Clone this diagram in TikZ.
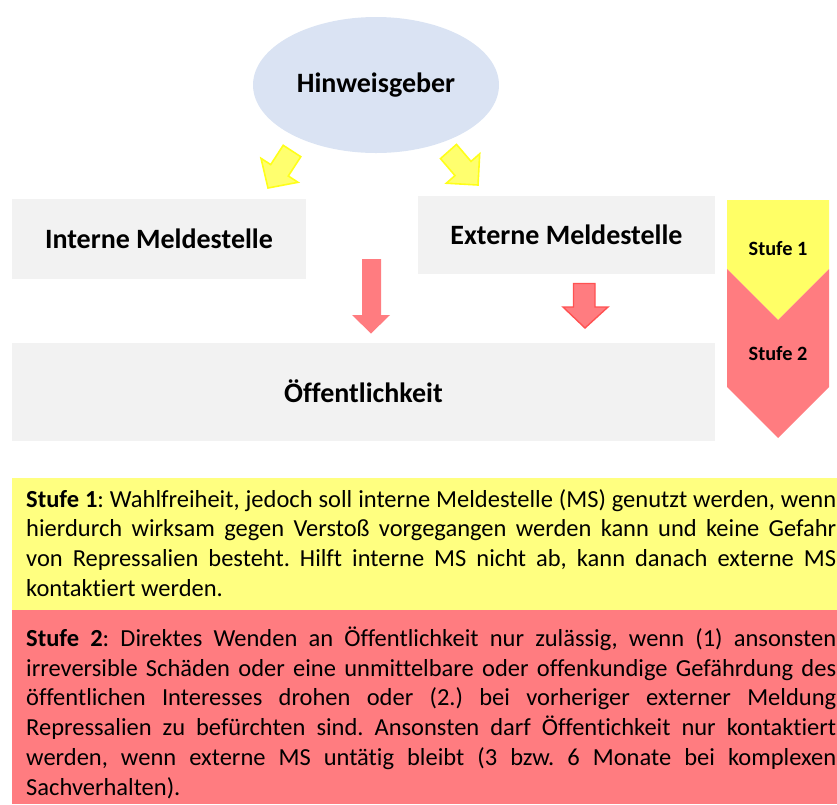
\documentclass[tikz,border=0pt]{standalone}
\usepackage{fontspec}
\setmainfont{Carlito}[Ligatures={NoCommon}]
\frenchspacing
\usetikzlibrary{shapes.geometric}
\definecolor{ellblue}{HTML}{DAE3F3}
\definecolor{boxgray}{HTML}{F2F2F2}
\definecolor{yfill}{HTML}{FFFF6E}
\definecolor{yline}{HTML}{FFFF1A}
\definecolor{chevy}{HTML}{FFFF66}
\definecolor{rfill}{HTML}{FF7C80}
\definecolor{rline}{HTML}{FF5252}
\definecolor{ybox}{HTML}{FFFF80}
\newcommand\headfont{\fontsize{28pt}{33pt}\selectfont\bfseries}
\newcommand\chevfont{\fontsize{20.3pt}{24pt}\selectfont\bfseries}
\newcommand\bodyfont{\fontsize{24.5pt}{29.7pt}\selectfont\frenchspacing}
\newcommand\jline[1]{\hbox to 810pt{#1}}
\begin{document}
\begin{tikzpicture}[x=1pt,y=-1pt,
  box/.style={fill=boxgray, inner sep=0pt, text height=18pt, text depth=0pt, font=\headfont},
  yarrow/.style={fill=yfill, draw=yline, line width=1.6pt, line join=miter},
  rarrow/.style={fill=rfill},
  rarrowb/.style={fill=rfill, draw=rline, line width=1.4pt},
  chevlbl/.style={font=\chevfont, anchor=base, inner sep=0pt},
  para/.style={anchor=base west, inner sep=0pt, font=\bodyfont}]
\useasboundingbox (0,0) rectangle (837,804);

% top ellipse
\node[ellipse, fill=ellblue, minimum width=246pt, minimum height=136pt, inner sep=0pt,
      text height=18pt, text depth=4pt, font=\headfont] (hg) at (376,85) {Hinweisgeber};

% boxes
\node[box, minimum width=294pt, minimum height=80pt] (intern) at (159,239) {Interne Meldestelle};
\node[box, minimum width=297pt, minimum height=78pt] (extern) at (566.5,235) {Externe Meldestelle};
\node[box, minimum width=703pt, minimum height=98pt, text height=20pt] (oeff) at (363.5,392) {Öffentlichkeit};

% yellow arrows
\path[yarrow] (283.2,145.3) -- (270.7,164.6) -- (261.0,158.3) -- (268,188) -- (298.0,182.3)
  -- (288.3,176.0) -- (300.8,156.7) -- cycle;
\path[yarrow] (456.5,144.4) -- (471.0,161.4) -- (479.7,153.8) -- (478,185) -- (446.3,183.2)
  -- (455.0,175.6) -- (440.5,158.6) -- cycle;

% red arrows
\path[rarrow] (362,259) -- (381,259) -- (381,315) -- (390,315) -- (371,333.5) -- (352,315)
  -- (362,315) -- cycle;
\path[rarrowb] (573.5,283.5) -- (595,283.5) -- (595,307) -- (608,307) -- (585,328) -- (563,307)
  -- (573.5,307) -- cycle;

% chevrons
\path[fill=chevy] (727,200) -- (829,200) -- (829,269) -- (778,320) -- (727,269) -- cycle;
\path[fill=rfill] (727,269) -- (778,320) -- (829,269) -- (829,387) -- (778,438) -- (727,387) -- cycle;
\node[chevlbl] (s1) at (778,255) {Stufe 1};
\node[chevlbl] (s2) at (778,360) {Stufe 2};

% text boxes
\path[fill=ybox] (12,478) rectangle (837,610);
\path[fill=rfill] (12,610) rectangle (837,804);

\node[para] (t1) at (26,507) {\vtop{\hsize=810pt \baselineskip=29.7pt \lineskiplimit=-20pt
  \jline{\textbf{Stufe 1}: Wahlfreiheit, jedoch soll interne Meldestelle (MS) genutzt werden, wenn}
  \jline{hierdurch wirksam gegen Verstoß vorgegangen werden kann und keine Gefahr}
  \jline{von Repressalien besteht. Hilft interne MS nicht ab, kann danach externe MS}
  \hbox{kontaktiert werden.}}};

\node[para] (t2) at (26,646.5) {\vtop{\hsize=810pt \baselineskip=29.7pt \lineskiplimit=-20pt
  \jline{\textbf{Stufe 2}: Direktes Wenden an Öffentlichkeit nur zulässig, wenn (1) ansonsten}
  \jline{irreversible Schäden oder eine unmittelbare oder offenkundige Gefährdung des}
  \jline{öffentlichen Interesses drohen oder (2.) bei vorheriger externer Meldung}
  \jline{Repressalien zu befürchten sind. Ansonsten darf Öffentichkeit nur kontaktiert}
  \jline{werden, wenn externe MS untätig bleibt (3 bzw. 6 Monate bei komplexen}
  \hbox{Sachverhalten).}}};
\end{tikzpicture}
\end{document}
